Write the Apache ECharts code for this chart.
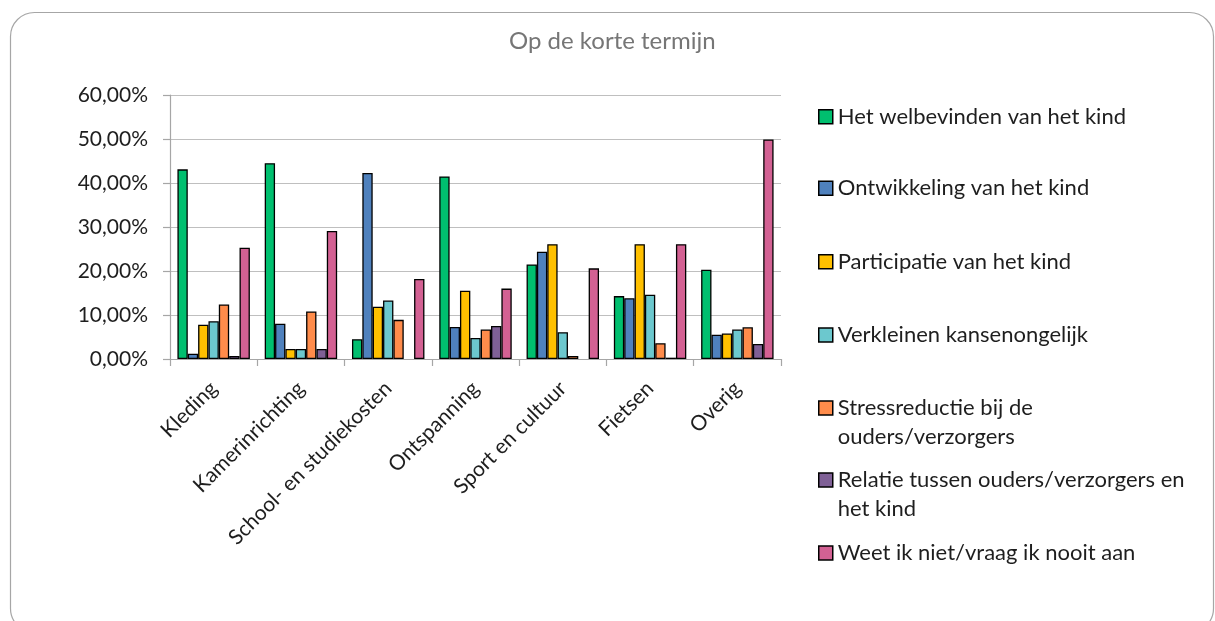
<!DOCTYPE html>
<html>
<head>
<meta charset="utf-8">
<script src="https://cdn.jsdelivr.net/npm/echarts@6/dist/echarts.min.js"></script>
<style>
html,body{margin:0;padding:0;background:#fff;}
#chart{width:1215px;height:621px;}
</style>
</head>
<body>
<div id="chart"></div>
<script>
const categories = ['Kleding', 'Kamerinrichting', 'School- en studiekosten', 'Ontspanning', 'Sport en cultuur', 'Fietsen', 'Overig'];
const seriesNames = [
  'Het welbevinden van het kind',
  'Ontwikkeling van het kind',
  'Participatie van het kind',
  'Verkleinen kansenongelijk',
  'Stressreductie bij de ouders/verzorgers',
  'Relatie tussen ouders/verzorgers en het kind',
  'Weet ik niet/vraag ik nooit aan'
];
const legendLabels = [
  'Het welbevinden van het kind',
  'Ontwikkeling van het kind',
  'Participatie van het kind',
  'Verkleinen kansenongelijk',
  'Stressreductie bij de\nouders/verzorgers',
  'Relatie tussen ouders/verzorgers en\nhet kind',
  'Weet ik niet/vraag ik nooit aan'
];
const welbevinden   = [43.1, 44.5, 4.5, 41.5, 21.5, 14.3, 20.3];
const ontwikkeling  = [1.2, 8.0, 42.3, 7.3, 24.4, 13.8, 5.5];
const participatie  = [7.8, 2.3, 11.9, 15.5, 26.1, 26.1, 5.8];
const kansen        = [8.6, 2.3, 13.3, 4.8, 6.1, 14.6, 6.7];
const stress        = [12.4, 10.8, 8.9, 6.7, 0.7, 3.6, 7.2];
const relatie       = [0.7, 2.3, null, 7.5, null, 0.3, 3.4];
const weetNiet      = [25.3, 29.1, 18.2, 16.0, 20.6, 26.1, 49.9];
const yTicks = [0, 10, 20, 30, 40, 50, 60];

const values = [welbevinden, ontwikkeling, participatie, kansen, stress, relatie, weetNiet];
const colors = ['#00BF6F', '#4F81BD', '#FFC000', '#6CC8CE', '#FF8C4B', '#7F6096', '#D36193'];

const FONT = 'Lato';
const chart = echarts.init(document.getElementById('chart'), null, {renderer: 'canvas'});

const legendTops = [102.2, 173.8, 247.2, 320.5, 364.5, 436.5, 538.5];
const legends = seriesNames.map((name, i) => {
  const multi = legendLabels[i].indexOf('\n') >= 0;
  return {
    data: [name],
    orient: 'vertical',
    left: 818,
    top: legendTops[i],
    padding: 0,
    itemWidth: 14,
    itemHeight: 14,
    icon: 'rect',
    selectedMode: false,
    formatter: () => (multi ? ' \n' : '') + legendLabels[i],
    itemStyle: {borderColor: '#000', borderWidth: 1.5},
    textStyle: {fontFamily: FONT, fontSize: 22, color: '#1e1e1e', lineHeight: 29}
  };
});

const option = {
  backgroundColor: '#fff',
  animation: false,
  title: {
    text: 'Op de korte termijn',
    left: 509,
    top: 29,
    padding: 0,
    textStyle: {fontFamily: FONT, fontSize: 24, fontWeight: 'normal', color: '#767676'}
  },
  graphic: [{
    type: 'rect',
    shape: {x: 10.5, y: 12.5, width: 1203, height: 620, r: 24},
    style: {fill: 'none', stroke: '#a6a6a6', lineWidth: 1.2},
    silent: true,
    z: -1
  }],
  legend: legends,
  grid: {left: 170, right: 434, top: 95, bottom: 262, containLabel: false},
  xAxis: {
    type: 'category',
    data: categories,
    axisLine: {lineStyle: {color: '#a6a6a6', width: 1.2}},
    axisTick: {show: true, length: 7, lineStyle: {color: '#a6a6a6', width: 1.2}, alignWithLabel: false},
    axisLabel: {
      rotate: 45, margin: 26, interval: 0,
      fontFamily: FONT, fontSize: 21, color: '#1e1e1e'
    }
  },
  yAxis: {
    type: 'value',
    min: yTicks[0],
    max: yTicks[yTicks.length - 1],
    interval: 10,
    axisLine: {show: true, lineStyle: {color: '#a6a6a6', width: 1.2}},
    axisTick: {show: true, length: 7, lineStyle: {color: '#a6a6a6', width: 1.2}},
    splitLine: {lineStyle: {color: '#bfbfbf', width: 1.2}},
    axisLabel: {
      margin: 22,
      fontFamily: FONT, fontSize: 21, color: '#1e1e1e',
      formatter: v => v.toFixed(2).replace('.', ',') + '%'
    }
  },
  series: seriesNames.map((name, i) => ({
    name: name,
    type: 'bar',
    data: values[i],
    barGap: '0%',
    barCategoryGap: '17%',
    itemStyle: {color: colors[i], borderColor: '#000', borderWidth: 1.3}
  }))
};
chart.setOption(option);
</script>
</body>
</html>
